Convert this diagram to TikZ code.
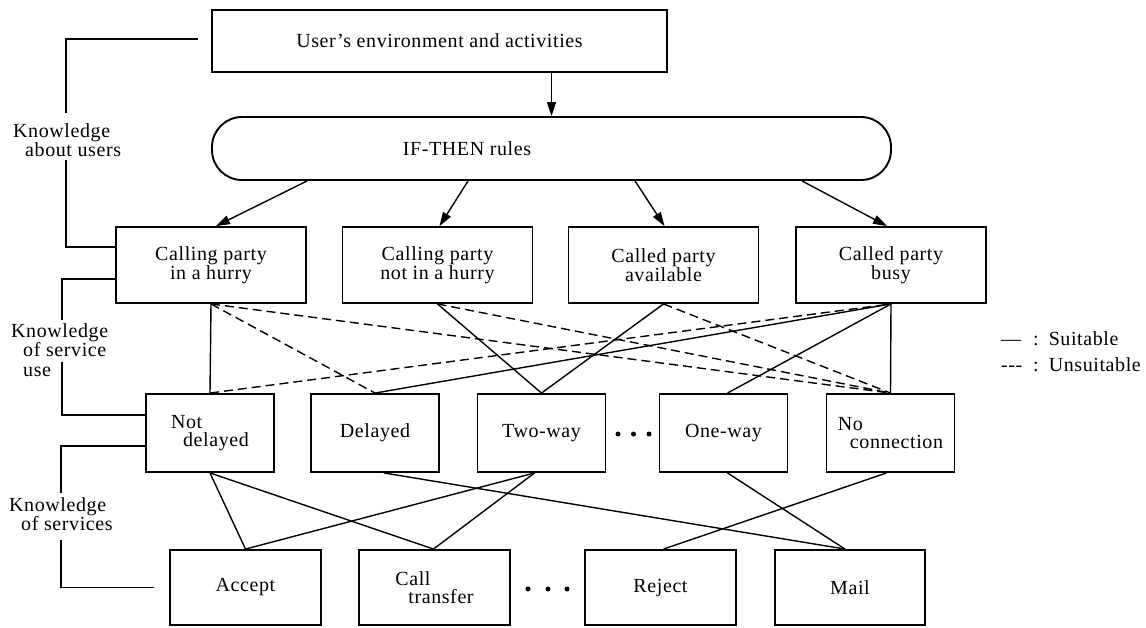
\documentclass[tikz,border=0pt]{standalone}
\usepackage{fontspec}
\setmainfont{Liberation Serif}[LetterSpace=3]
\usetikzlibrary{arrows.meta,calc}

\begin{document}
\begin{tikzpicture}[x=1pt,y=-1pt,
  every node/.style={font=\fontsize{20}{18.5}\selectfont},
  box/.style={draw, line width=1.9pt, inner sep=0pt, align=center},
  rulebox/.style={box, minimum width=455pt, minimum height=62pt},
  catbox/.style={box, minimum width=190pt, minimum height=76pt},
  usebox/.style={box, minimum width=128pt, minimum height=78pt},
  svcbox/.style={box, minimum width=151pt, minimum height=75pt},
  lbl/.style={inner sep=0pt, align=left, font=\fontsize{20}{19.5}\selectfont},
  link/.style={line width=1.4pt},
  nolink/.style={line width=1.4pt, dash pattern=on 9pt off 5pt},
  arr/.style={line width=1.4pt, -{Triangle[length=14pt,width=9pt]}},
  bracket/.style={line width=1.4pt},
  dot/.style={fill=black}
]
\useasboundingbox (0,0) rectangle (1146,627);

% top row
\node[rulebox] (env) at (439.5,41) {User’s environment and activities};
\node[draw, line width=1.9pt, rounded corners=30pt, minimum width=679pt,
      minimum height=63pt, inner sep=0pt] (ifr) at (551.5,148.5) {};
\node[inner sep=0pt] (iftext) at (467,148.5) {IF-THEN rules};

% situation categories
\node[catbox] (b1) at (211,265)   {Calling party\\in a hurry};
\node[catbox] (b2) at (437.5,265) {Calling party\\not in a hurry};
\node[catbox] (b3) at (663.5,265) {Called party\\available};
\node[catbox] (b4) at (891,265)   {Called party\\busy};

% service use
\node[usebox, align=left] (nd) at (210,433)   {Not\\\hspace*{12pt}delayed};
\node[usebox] (dl) at (375,433)   {Delayed};
\node[usebox] (tw) at (541.5,433) {Two-way};
\node[usebox] (ow) at (723.5,433) {One-way};
\node[usebox, align=left] (nc) at (890.5,433) {No\\\hspace*{12pt}connection};

% services
\node[svcbox] (ac) at (245.5,587.5) {Accept};
\node[svcbox, align=left] (ct) at (434.5,587.5) {Call\\\hspace*{13pt}transfer};
\node[svcbox] (rj) at (660.5,587.5) {Reject};
\node[svcbox, minimum width=150pt] (ml) at (850,587.5) {Mail};

% ellipses
\fill[dot] (618,434) circle (2.5pt) (633.5,434) circle (2.5pt) (649,434) circle (2.5pt);
\fill[dot] (528,589) circle (2.5pt) (548,589) circle (2.5pt) (567,589) circle (2.5pt);

% rule arrows
\draw[arr] (env.south -| ifr.north) -- (ifr.north);
\coordinate (r1) at ($(ifr.south west)+(96,0)$);
\coordinate (r2) at ($(ifr.south west)+(257,0)$);
\coordinate (r3) at ($(ifr.south west)+(424,0)$);
\coordinate (r4) at ($(ifr.south west)+(591,0)$);
\draw[arr] (r1) -- ($(b1.north)+(5,0)$);
\draw[arr] (r2) -- ($(b2.north)+(2,0)$);
\draw[arr] (r3) -- ($(b3.north)+(1,0)$);
\draw[arr] (r4) -- ($(b4.north)+(-4,0)$);

% categories to service use
\draw[link] (b1.south) -- (nd.north);
\draw[link] (b2.south) -- (tw.north);
\draw[link] (b3.south) -- (tw.north);
\draw[link] (b4.south) -- (dl.north);
\draw[link] (b4.south) -- ($(ow.north)+(4,0)$);
\draw[link] (b4.south) -- (nc.north);
\draw[nolink] (b1.south) -- (dl.north);
\draw[nolink] (b1.south) -- (nc.north);
\draw[nolink] (b2.south) -- (nc.north);
\draw[nolink] (b3.south) -- (nc.north);
\draw[nolink] (nd.north) -- (b4.south);

% service use to services
\draw[link] (nd.south) -- (ac.north);
\draw[link] (nd.south) -- ($(ct.north)+(-1,0)$);
\draw[link] ($(dl.south)+(9,0)$) -- ($(ml.north)+(-5,0)$);
\draw[link] ($(tw.south)+(-7,0)$) -- (ac.north);
\draw[link] ($(tw.south)+(-7,0)$) -- ($(ct.north)+(-1,0)$);
\draw[link] ($(ow.south)+(4,0)$) -- ($(ml.north)+(-5,0)$);
\draw[link] ($(nc.south)+(-4,0)$) -- ($(rj.north)+(3,0)$);

% knowledge brackets
\draw[bracket] ($(env.west)+(-13,-2)$) -| (66,113);
\draw[bracket] (66,160) |- ($(b1.west)+(0,-18)$);
\draw[bracket] ($(b1.west)+(0,14)$) -| (62,320);
\draw[bracket] (62,362) |- ($(nd.west)+(0,-18)$);
\draw[bracket] ($(nd.west)+(0,13)$) -| (61,493);
\draw[bracket] (61,540) |- ($(ac.west)+(-15,0)$);

\node[lbl, anchor=north west] (ku) at (13,123) {Knowledge\\\hspace*{12pt}about users};
\node[lbl, anchor=north west] (ks) at (11,323) {Knowledge\\\hspace*{12pt}of service\\\hspace*{12pt}use};
\node[lbl, anchor=north west] (kv) at (9,497) {Knowledge\\\hspace*{12pt}of services};

% legend
\node[lbl, anchor=base west] (lg1) at (1001,345) {\makebox[32pt][l]{—}:\hspace{10pt}Suitable};
\node[lbl, anchor=base west] (lg2) at (1001,371) {\makebox[32pt][l]{-{}-{}-}:\hspace{10pt}Unsuitable};
\end{tikzpicture}
\end{document}
